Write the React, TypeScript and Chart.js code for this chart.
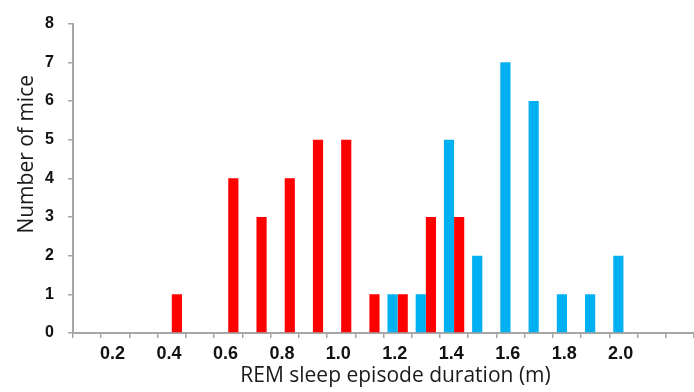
import React, { useEffect, useRef } from 'react';
import { Chart, registerables } from 'chart.js';

Chart.register(...registerables);

const categories = [
  '0.1', '0.2', '0.3', '0.4', '0.5', '0.6', '0.7', '0.8', '0.9', '1.0', '1.1',
  '1.2', '1.3', '1.4', '1.5', '1.6', '1.7', '1.8', '1.9', '2.0', '2.1', '2.2',
];
const tickLabels = [
  '', '0.2', '', '0.4', '', '0.6', '', '0.8', '', '1.0', '',
  '1.2', '', '1.4', '', '1.6', '', '1.8', '', '2.0', '', '',
];
const blueCounts = [0, 0, 0, 0, 0, 0, 0, 0, 0, 0, 0, 1, 1, 5, 2, 7, 6, 1, 1, 2, 0, 0];
const redCounts = [0, 0, 0, 1, 0, 4, 3, 4, 5, 5, 1, 1, 3, 3, 0, 0, 0, 0, 0, 0, 0, 0];
const yMin = 0;
const yMax = 8;
const xTitle = 'REM sleep episode duration (m)';
const yTitle = 'Number of mice';

const axisGrey = '#a6a6a6';
const tickFont = { family: '"Liberation Sans", Arial, sans-serif', weight: 'bold' as const, size: 16 };

const titlePlugin = {
  id: 'axisTitlesCustom',
  afterDraw(chart: any) {
    const ctx = chart.ctx as CanvasRenderingContext2D;
    const area = chart.chartArea;
    ctx.save();
    ctx.font = '21px "Open Sans", sans-serif';
    ctx.fillStyle = '#1a1a1a';
    ctx.textAlign = 'center';
    ctx.textBaseline = 'alphabetic';
    ctx.fillText(xTitle, (area.left + area.right) / 2 + 12, 382);
    ctx.translate(33, (area.top + area.bottom) / 2 - 24);
    ctx.rotate(-Math.PI / 2);
    ctx.fillText(yTitle, 0, 0);
    ctx.restore();
  },
};

export default function App() {
  const ref = useRef<HTMLCanvasElement | null>(null);

  useEffect(() => {
    document.body.style.margin = '0';
    const canvas = ref.current;
    if (!canvas) return;
    const chart = new Chart(canvas, {
      type: 'bar',
      data: {
        labels: categories,
        datasets: [
          {
            label: 'Group 2',
            data: blueCounts,
            backgroundColor: '#00B0F0',
            borderWidth: 0,
            categoryPercentage: 0.72,
            barPercentage: 1,
          },
          {
            label: 'Group 1',
            data: redCounts,
            backgroundColor: '#FF0000',
            borderWidth: 0,
            categoryPercentage: 0.72,
            barPercentage: 1,
          },
        ],
      },
      options: {
        animation: false,
        responsive: false,
        maintainAspectRatio: false,
        layout: { padding: { top: 17, right: 0, bottom: 0, left: 0 } },
        plugins: {
          legend: { display: false },
          tooltip: { enabled: false },
        },
        scales: {
          x: {
            grid: {
              display: true,
              drawOnChartArea: false,
              drawTicks: true,
              tickLength: 5,
              color: axisGrey,
              lineWidth: 1.5,
              offset: true,
            },
            border: { display: true, color: axisGrey, width: 2 },
            ticks: {
              autoSkip: false,
              maxRotation: 0,
              minRotation: 0,
              color: '#111',
              font: { ...tickFont, size: 18 },
              padding: 5,
              labelOffset: -2.8,
              callback: (_v: any, i: number) => tickLabels[i],
            },
            afterFit: (s: any) => {
              s.height = 59;
            },
          },
          y: {
            min: yMin,
            max: yMax,
            grid: {
              display: true,
              drawOnChartArea: false,
              drawTicks: true,
              tickLength: 5,
              color: axisGrey,
              lineWidth: 1.5,
            },
            border: { display: true, color: axisGrey, width: 2 },
            ticks: {
              stepSize: 1,
              color: '#111',
              font: tickFont,
              padding: 14,
            },
            afterFit: (s: any) => {
              s.width = 73;
            },
          },
        },
      },
      plugins: [titlePlugin],
    });
    return () => chart.destroy();
  }, []);

  return (
    <div style={{ position: 'absolute', left: 0, top: 0, width: 694, height: 392 }}>
      <canvas ref={ref} width={694} height={392} style={{ display: 'block', width: 694, height: 392 }} />
    </div>
  );
}
